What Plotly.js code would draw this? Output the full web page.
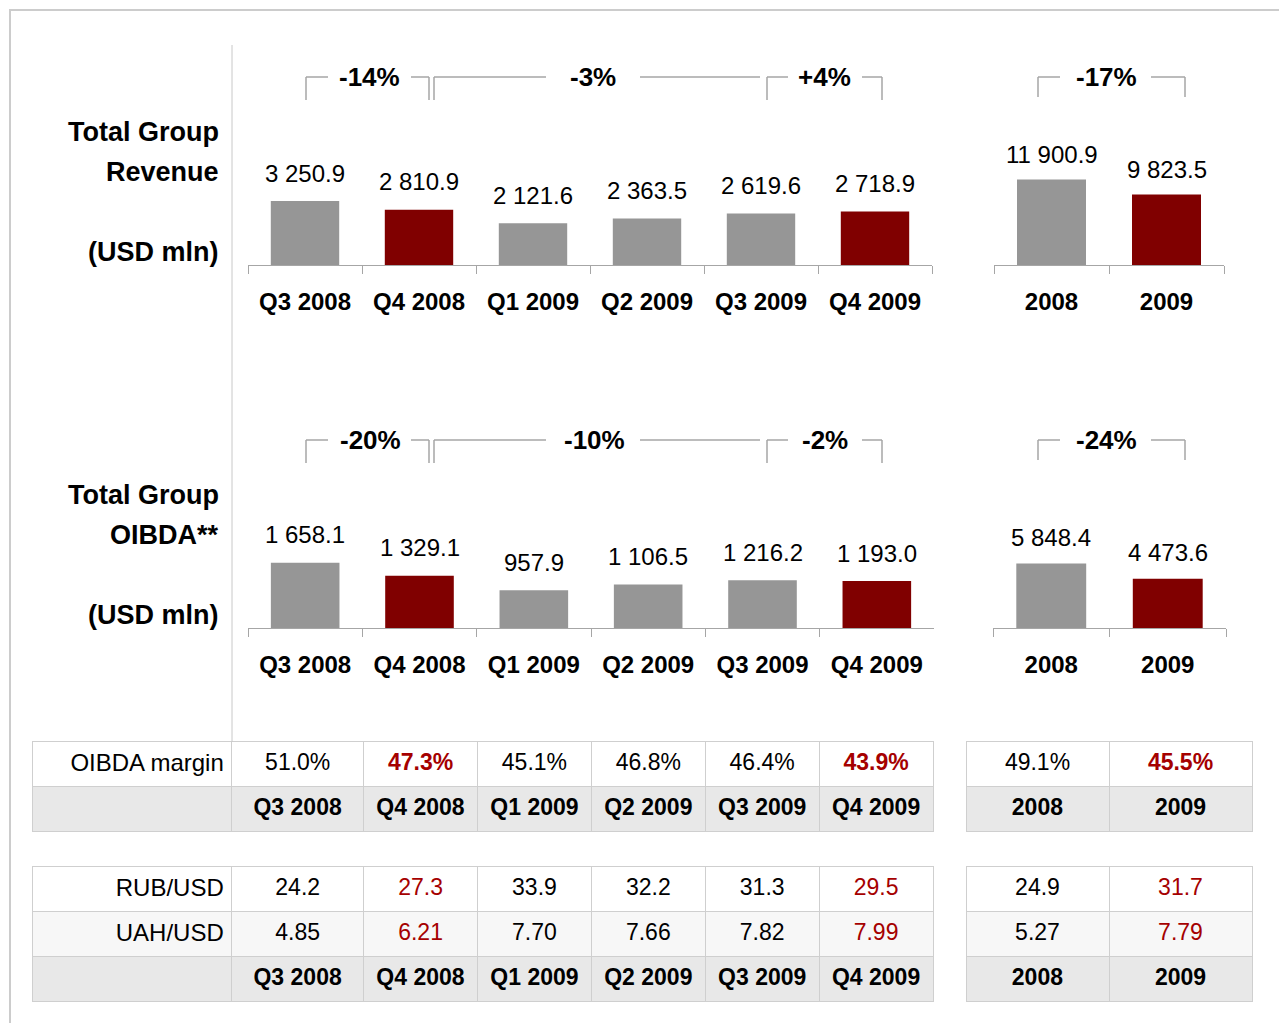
<!DOCTYPE html>
<html>
<head>
<meta charset="utf-8">
<script src="https://cdn.plot.ly/plotly-3.0.1.min.js"></script>
<style>html,body{margin:0;padding:0;background:#fff;}#chart{width:1279px;height:1023px;}</style>
</head>
<body>
<div id="chart"></div>
<script>
// ---------- DATA ----------
const quarters = ['Q3 2008','Q4 2008','Q1 2009','Q2 2009','Q3 2009','Q4 2009'];
const years = ['2008','2009'];
const revenueQ = [3250.9, 2810.9, 2121.6, 2363.5, 2619.6, 2718.9];
const revenueY = [11900.9, 9823.5];
const oibdaQ = [1658.1, 1329.1, 957.9, 1106.5, 1216.2, 1193.0];
const oibdaY = [5848.4, 4473.6];
const revChangeQ = ['-14%', '-3%', '+4%'];
const revChangeY = ['-17%'];
const oibdaChangeQ = ['-20%', '-10%', '-2%'];
const oibdaChangeY = ['-24%'];
const marginQ = ['51.0%','47.3%','45.1%','46.8%','46.4%','43.9%'];
const marginY = ['49.1%','45.5%'];
const rubQ = ['24.2','27.3','33.9','32.2','31.3','29.5'];
const rubY = ['24.9','31.7'];
const uahQ = ['4.85','6.21','7.70','7.66','7.82','7.99'];
const uahY = ['5.27','7.79'];
const highlightQ = [false,true,false,false,false,true];
const highlightY = [false,true];

// ---------- STYLE ----------
const W = 1279, H = 1023;
const FONT = 'Liberation Sans, Arial, sans-serif';
const GREY = '#969696', RED = '#800000', TRED = '#a50000';
const LINE = '#a6a6a6';
const fx = p => p / W;
const fy = p => 1 - p / H;
const fmt = v => {
  const s = v.toFixed(1);
  const [i, d] = s.split('.');
  return i.replace(/\B(?=(\d{3})+(?!\d))/g, ' ') + '.' + d;
};

function barTrace(x, y, xa, ya, hl) {
  return {type: 'bar', x: x, y: y, xaxis: xa, yaxis: ya, width: 0.6,
    marker: {color: hl.map(h => h ? RED : GREY), line: {width: 0}},
    hoverinfo: 'skip', showlegend: false, cliponaxis: false};
}
const data = [
  barTrace(quarters, revenueQ, 'x', 'y', highlightQ),
  barTrace(years, revenueY, 'x2', 'y2', highlightY),
  barTrace(quarters, oibdaQ, 'x3', 'y3', highlightQ),
  barTrace(years, oibdaY, 'x4', 'y4', highlightY)
];

// ---------- TABLES ----------
const CELL_LINE = '#cfcfcf';
const bold = s => '<b>' + s + '</b>';
const plain = s => '<span>' + s + '</span>';
function colorsFor(hl) { return hl.map(h => h ? TRED : '#000'); }
function tableTrace(x0, x1, y0, y1, colw, head, headColors, headAlign, rows, rowFills, rowAlign, rowColors, sizes) {
  return {type: 'table', domain: {x: [fx(x0), fx(x1)], y: [fy(y1), fy(y0)]},
    columnwidth: colw,
    header: {values: head, align: headAlign, height: 45,
      fill: {color: '#ffffff'}, line: {color: CELL_LINE, width: 1},
      font: {family: FONT, size: sizes, color: headColors}},
    cells: {values: rows, align: rowAlign, height: 45,
      fill: {color: rowFills}, line: {color: CELL_LINE, width: 1},
      font: {family: FONT, size: sizes, color: rowColors}}
  };
}
const qAlign = ['right'].concat(quarters.map(() => 'center'));
const qWidths = [200,132,114,114,114,114,114];
const qSizes = [24].concat(quarters.map(() => 23));
// Table 1 quarterly
{
  const head = [plain('OIBDA margin')].concat(marginQ.map((v, i) => highlightQ[i] ? bold(v) : plain(v)));
  const hc = ['#000'].concat(colorsFor(highlightQ));
  const rows = [[plain('')]].concat(quarters.map(q => [bold(q)]));
  data.push(tableTrace(32, 934, 741, 835, qWidths, head, hc, qAlign, rows,
    rows.map(() => ['#e8e8e8']), qAlign, rows.map(() => ['#000']), qSizes));
}
// Table 1 annual
{
  const head = marginY.map((v, i) => highlightY[i] ? bold(v) : plain(v));
  const rows = years.map(y => [bold(y)]);
  data.push(tableTrace(966, 1252, 741, 835, [143,143], head, colorsFor(highlightY),
    'center', rows, rows.map(() => ['#e8e8e8']), 'center', rows.map(() => ['#000']), 23));
}
// Table 2 quarterly
{
  const head = [plain('RUB/USD')].concat(rubQ.map(plain));
  const hc = ['#000'].concat(colorsFor(highlightQ));
  const rows = [[plain('UAH/USD'), plain('')]].concat(quarters.map((q, i) => [plain(uahQ[i]), bold(q)]));
  const rc = [['#000','#000']].concat(highlightQ.map(h => [h ? TRED : '#000', '#000']));
  data.push(tableTrace(32, 934, 866, 1005, qWidths, head, hc, qAlign, rows,
    rows.map(() => ['#f7f7f7', '#e8e8e8']), qAlign, rc, qSizes));
}
// Table 2 annual
{
  const rows = years.map((y, i) => [plain(uahY[i]), bold(y)]);
  const rc = highlightY.map(h => [h ? TRED : '#000', '#000']);
  data.push(tableTrace(966, 1252, 866, 1005, [143,143], rubY.map(plain), colorsFor(highlightY),
    'center', rows, rows.map(() => ['#f7f7f7', '#e8e8e8']), 'center', rc, 23));
}

// ---------- AXES ----------
function xAxis(x0, x1, anchor, n) {
  return {domain: [fx(x0), fx(x1)], anchor: anchor, type: 'category', range: [-0.5, n - 0.5],
    showline: true, linecolor: LINE, linewidth: 1, ticks: 'outside', tickson: 'boundaries',
    ticklen: 8, tickcolor: LINE, tickwidth: 1, showgrid: false, zeroline: false,
    ticklabelstandoff: 15, fixedrange: true, tickangle: 0,
    tickfont: {family: FONT, size: 24, color: '#000', weight: 'bold'}};
}
// yBase: pixel of baseline, yTop: pixel of top of plot area
function yAxis(yBase, yTop, max, anchor) {
  return {domain: [fy(yBase), fy(yTop)], anchor: anchor, range: [0, max], visible: false, fixedrange: true};
}

const annotations = [];
function valueLabels(xs, ys, xr, yr, shift) {
  xs.forEach((c, i) => annotations.push({xref: xr, yref: yr, x: i, y: ys[i], text: fmt(ys[i]),
    showarrow: false, yanchor: 'middle', yshift: shift, font: {family: FONT, size: 24, color: '#000'}}));
}
valueLabels(quarters, revenueQ, 'x', 'y', 28);
valueLabels(years, revenueY, 'x2', 'y2', 25);
valueLabels(quarters, oibdaQ, 'x3', 'y3', 28);
valueLabels(years, oibdaY, 'x4', 'y4', 26);

function paperText(px, py, text, size, anchor) {
  annotations.push({xref: 'paper', yref: 'paper', x: fx(px), y: fy(py), text: text, showarrow: false,
    xanchor: anchor, yanchor: 'middle', font: {family: FONT, size: size, color: '#000', weight: 'bold'}});
}
// left titles
paperText(221, 132, 'Total Group', 27, 'right');
paperText(221, 172, 'Revenue', 27, 'right');
paperText(221, 252, '(USD mln)', 27, 'right');
paperText(221, 495, 'Total Group', 27, 'right');
paperText(221, 535, 'OIBDA**', 27, 'right');
paperText(221, 615, '(USD mln)', 27, 'right');

const shapes = [];
function seg(x0, y0, x1, y1, color, w) {
  shapes.push({type: 'line', xref: 'paper', yref: 'paper', x0: fx(x0), y0: fy(y0), x1: fx(x1), y1: fy(y1),
    line: {color: color || LINE, width: w || 1.5}});
}
function brackets(yTop, yBot, labels, defs) {
  defs.forEach((d, i) => {
    const [l, g1, g2, r, lv, rv, c] = d;
    seg(l, yTop, g1, yTop);
    seg(g2, yTop, r, yTop);
    if (lv) seg(l, yTop, l, yBot);
    if (rv) seg(r, yTop, r, yBot);
    paperText(c, yTop, labels[i], 26, 'center');
  });
}
const qDefs = [[306, 328, 411, 429, true, true, 369], [434, 546, 640, 760, true, false, 593], [767, 788, 862, 882, true, true, 824]];
const yDefs = [[1038, 1060, 1151, 1185, true, true, 1106]];
brackets(77, 100, revChangeQ, qDefs);
brackets(77, 97, revChangeY, yDefs);
brackets(440, 463, oibdaChangeQ, qDefs.map(d => d.slice(0, 6).concat([d[6] + 1])));
brackets(440, 460, oibdaChangeY, yDefs);

// separator + frame
seg(232, 45, 232, 742, '#c8c8c8', 1);
shapes.push({type: 'rect', xref: 'paper', yref: 'paper', x0: fx(10), y0: fy(1040), x1: fx(1300), y1: fy(10),
  line: {color: '#cccccc', width: 2}, fillcolor: 'rgba(0,0,0,0)'});

const layout = {
  width: W, height: H, margin: {l: 0, r: 0, t: 0, b: 0},
  paper_bgcolor: '#ffffff', plot_bgcolor: 'rgba(0,0,0,0)',
  showlegend: false,
  font: {family: FONT, color: '#000'},
  xaxis: xAxis(248, 932, 'y', quarters.length),
  yaxis: yAxis(265, 105, 8140, 'x'),
  xaxis2: xAxis(994, 1224, 'y2', years.length),
  yaxis2: yAxis(265, 105, 22290, 'x2'),
  xaxis3: xAxis(248, 934, 'y3', quarters.length),
  yaxis3: yAxis(628, 468, 4070, 'x3'),
  xaxis4: xAxis(993, 1226, 'y4', years.length),
  yaxis4: yAxis(628, 468, 14500, 'x4'),
  annotations: annotations,
  shapes: shapes
};

Plotly.newPlot('chart', data, layout, {displayModeBar: false, staticPlot: true});
</script>
</body>
</html>
